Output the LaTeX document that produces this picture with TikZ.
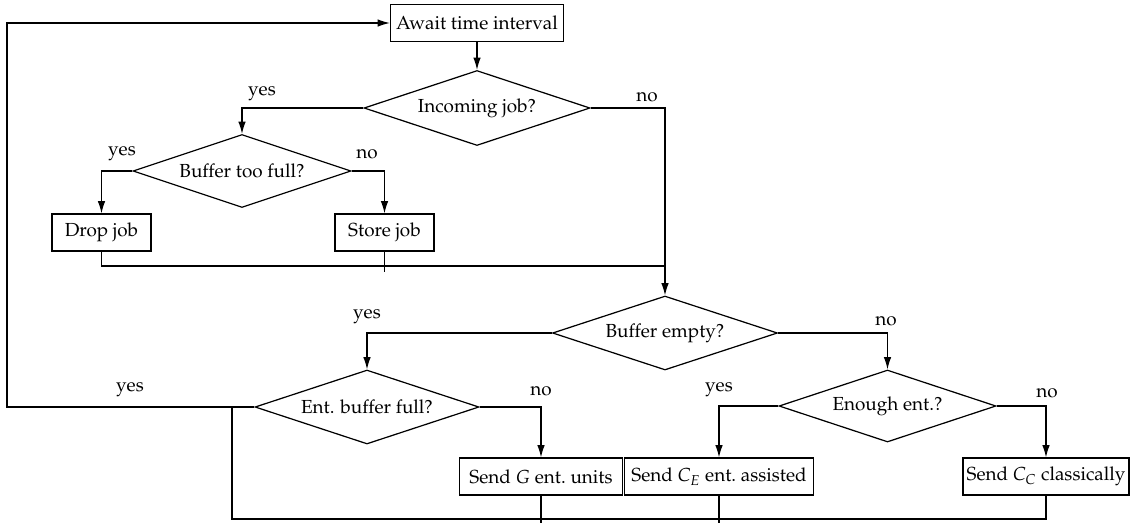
\documentclass[tikz,border=0pt]{standalone}
\usepackage[T1]{fontenc}
\usepackage{mathpazo}
\usetikzlibrary{shapes.geometric,arrows.meta}
% one drawing unit
\newcommand\pxu{0.529pt}
\begin{document}
\begin{tikzpicture}[x=\pxu,y=-\pxu,
  line width=0.65pt,
  box/.style={draw,rectangle,inner sep=0pt,minimum height=37*\pxu},
  decision/.style={draw,diamond,inner sep=0pt,aspect=3},
  lbl/.style={inner sep=0pt},
  flow/.style={-{Latex[length=6.5pt,width=4pt]}}]
\useasboundingbox (0,0) rectangle (1138,523);

% process boxes and decisions
\node[box,minimum width=173*\pxu] (await) at (477,23) {Await time interval};
\node[decision,minimum width=226*\pxu,minimum height=75*\pxu] (inc) at (477,108) {Incoming job?};
\node[decision,minimum width=218*\pxu,minimum height=73*\pxu] (btf) at (242,171) {Buffer too full?};
\node[box,minimum width=99*\pxu] (drop) at (101.5,232.5) {Drop job};
\node[box,minimum width=99*\pxu] (store) at (384.5,232.5) {Store job};
\node[decision,minimum width=225*\pxu,minimum height=74*\pxu] (bemp) at (665,333) {Buffer empty?};
\node[decision,minimum width=224*\pxu,minimum height=74*\pxu] (ebf) at (367,407) {Ent. buffer full?};
\node[decision,minimum width=217*\pxu,minimum height=72*\pxu] (enough) at (887.5,406) {Enough ent.?};
\node[box,minimum width=163*\pxu] (sendG) at (541,476.5) {Send $G$ ent.\ units};
\node[box,minimum width=189*\pxu] (sendE) at (719,476.5) {Send $C_E$ ent.\ assisted};
\node[box,minimum width=166*\pxu] (sendC) at (1046,476.5) {Send $C_C$ classically};

% branch labels
\node[lbl] (incyes) at (262,94) {yes};
\node[lbl] (incno) at (647,97) {no};
\node[lbl] (btfyes) at (122,154) {yes};
\node[lbl] (btfno) at (367,154) {no};
\node[lbl] (bempyes) at (367,317) {yes};
\node[lbl] (bempno) at (886,321) {no};
\node[lbl] (ebfyes) at (130,390) {yes};
\node[lbl] (ebfno) at (541,391) {no};
\node[lbl] (enyes) at (719,390) {yes};
\node[lbl] (enno) at (1047,393) {no};

% helper points for merging lines
\coordinate (merge) at (665,266);
\coordinate (storeend) at (384.5,272);
\coordinate (loop) at (7,407);
\coordinate (join) at (232,407);
\coordinate (base) at (232,519);
\coordinate (gend) at (541,522.5);
\coordinate (eend) at (719,522.5);

% connectors
\draw[flow] (await.south) -- (inc.north);
\draw[flow] (inc.west) -| (btf.north);
\draw[flow] (inc.east) -| (bemp.north);
\draw[flow] (btf.west) -| (drop.north);
\draw[flow] (btf.east) -| (store.north);
\draw (drop.south) |- (merge);
\draw (store.south) -- (storeend);
\draw[flow] (bemp.west) -| (ebf.north);
\draw[flow] (bemp.east) -| (enough.north);
\draw[flow] (ebf.east) -| (sendG.north);
\draw[flow] (enough.west) -| (sendE.north);
\draw[flow] (enough.east) -| (sendC.north);
\draw[flow] (ebf.west) -- (loop) |- (await.west);
\draw (join) -- (base) -| (sendC.south);
\draw (sendG.south) -- (gend);
\draw (sendE.south) -- (eend);
\end{tikzpicture}
\end{document}
